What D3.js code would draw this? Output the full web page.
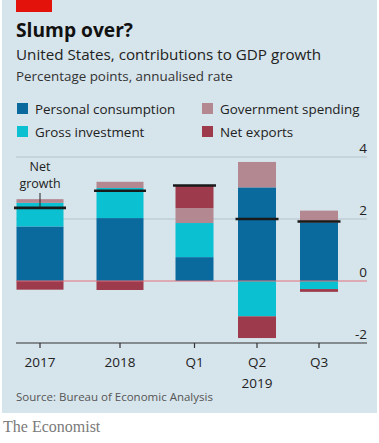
<!DOCTYPE html>
<html><head><meta charset="utf-8">
<script src="https://cdn.jsdelivr.net/npm/d3@7"></script>
<style>html,body{margin:0;padding:0;background:#fff}svg{display:block}</style>
</head><body>
<script>
const categories = ["2017", "2018", "Q1", "Q2", "Q3"];
const periodType = ["year", "year", "quarter", "quarter", "quarter"];
const seriesNames = ["Personal consumption", "Gross investment", "Government spending", "Net exports"];
const consumption = [1.76, 2.03, 0.77, 3.02, 1.89];
const investment = [0.76, 0.97, 1.10, -1.14, -0.26];
const government = [0.12, 0.20, 0.48, 0.82, 0.38];
const netExports = [-0.28, -0.29, 0.73, -0.70, -0.09];
const netGrowth = [2.36, 2.91, 3.08, 2.00, 1.92];
const yTicks = [4, 2, 0, -2];

const W = 379, H = 443;
const colors = ["#0b6a9d", "#0bc0d1", "#b38891", "#9d3a4b"];
const keys = ["c", "i", "g", "n"];
const rows = categories.map((c, k) => ({cat: c, c: consumption[k], i: investment[k], g: government[k], n: netExports[k], net: netGrowth[k], type: periodType[k]}));

const svg = d3.select("body").append("svg").attr("width", W).attr("height", H);
svg.append("rect").attr("x", 2).attr("y", 0).attr("width", W - 4).attr("height", 413).attr("fill", "#d6e4eb");
svg.append("rect").attr("x", 16).attr("y", 0).attr("width", 36).attr("height", 12).attr("fill", "#e3120b");

const font = "'Open Sans', 'Noto Sans', sans-serif";
svg.append("text").attr("x", 16).attr("y", 37).text("Slump over?")
  .attr("font-family", font).attr("font-weight", 700).attr("font-size", 19.2).attr("fill", "#111");
svg.append("text").attr("x", 16).attr("y", 60).text("United States, contributions to GDP growth")
  .attr("font-family", font).attr("font-size", 15.2).attr("fill", "#222");
svg.append("text").attr("x", 16).attr("y", 81).text("Percentage points, annualised rate")
  .attr("font-family", font).attr("font-size", 13.4).attr("fill", "#333");

// legend
const legPos = [[17, 114], [17, 137], [202, 114], [202, 137]];
seriesNames.forEach((s, k) => {
  const g = svg.append("g").attr("transform", `translate(${legPos[k][0]},${legPos[k][1]})`);
  g.append("rect").attr("x", 0).attr("y", -11).attr("width", 11).attr("height", 11).attr("fill", colors[k]);
  g.append("text").attr("x", 18).attr("y", 0).text(s)
    .attr("font-family", font).attr("font-size", 13.4).attr("fill", "#222");
});

const y = d3.scaleLinear().domain([-2, 4]).range([343, 157]);
const centers = [40, 120, 194.5, 257, 319];
const x = d3.scaleOrdinal().domain(categories).range(centers);
const bw = t => t === "year" ? 47 : 38;

// gridlines
const gl = svg.append("g");
yTicks.forEach(t => {
  if (t === 4 || t === 2) {
    gl.append("line").attr("x1", 16).attr("x2", 367).attr("y1", y(t)).attr("y2", y(t))
      .attr("stroke", "#b4c4cc").attr("stroke-width", 1);
  }
  gl.append("text").attr("x", 367).attr("y", y(t) - 4).attr("text-anchor", "end").text(t)
    .attr("font-family", font).attr("font-size", 13.5).attr("fill", "#222");
});

const stack = d3.stack().keys(keys).offset(d3.stackOffsetDiverging);
const series = stack(rows);
series.forEach((s, k) => {
  svg.append("g").selectAll("rect").data(s).join("rect")
    .attr("x", d => x(d.data.cat) - bw(d.data.type) / 2)
    .attr("width", d => bw(d.data.type))
    .attr("y", d => y(Math.max(d[0], d[1])))
    .attr("height", d => Math.abs(y(d[0]) - y(d[1])))
    .attr("fill", colors[k]);
});

// zero line
svg.append("line").attr("x1", 16).attr("x2", 367).attr("y1", y(0)).attr("y2", y(0))
  .attr("stroke", "#e0707a").attr("stroke-width", 1);

// axis at -2
svg.append("line").attr("x1", 16).attr("x2", 367).attr("y1", y(-2)).attr("y2", y(-2))
  .attr("stroke", "#333").attr("stroke-width", 1.2);
categories.forEach(c => {
  svg.append("line").attr("x1", x(c)).attr("x2", x(c)).attr("y1", y(-2)).attr("y2", y(-2) + 5)
    .attr("stroke", "#333").attr("stroke-width", 1.2);
  svg.append("text").attr("x", x(c)).attr("y", 367).attr("text-anchor", "middle").text(c)
    .attr("font-family", font).attr("font-size", 13.5).attr("fill", "#222");
});
svg.append("text").attr("x", x("Q2")).attr("y", 388).attr("text-anchor", "middle").text("2019")
  .attr("font-family", font).attr("font-size", 13.5).attr("fill", "#222");

// net growth markers
rows.forEach(r => {
  svg.append("line").attr("x1", x(r.cat) - bw(r.type) / 2 - 2.5).attr("x2", x(r.cat) + bw(r.type) / 2 + 2.5)
    .attr("y1", y(r.net)).attr("y2", y(r.net)).attr("stroke", "#1a1a1a").attr("stroke-width", 2.6);
});
// annotation
svg.append("line").attr("x1", x("2017")).attr("x2", x("2017")).attr("y1", 193).attr("y2", y(netGrowth[0]))
  .attr("stroke", "#222").attr("stroke-width", 1);
svg.append("text").attr("x", x("2017")).attr("y", 171).attr("text-anchor", "middle").text("Net")
  .attr("font-family", font).attr("font-size", 12.5).attr("fill", "#222");
svg.append("text").attr("x", x("2017")).attr("y", 188).attr("text-anchor", "middle").text("growth")
  .attr("font-family", font).attr("font-size", 12.5).attr("fill", "#222");

svg.append("text").attr("x", 16).attr("y", 401).text("Source: Bureau of Economic Analysis")
  .attr("font-family", font).attr("font-size", 11.5).attr("fill", "#555");
svg.append("text").attr("x", 3).attr("y", 432).text("The Economist")
  .attr("font-family", "'Liberation Serif', 'DejaVu Serif', serif").attr("font-size", 16).attr("fill", "#7a7a7a");
</script>
</body></html>
